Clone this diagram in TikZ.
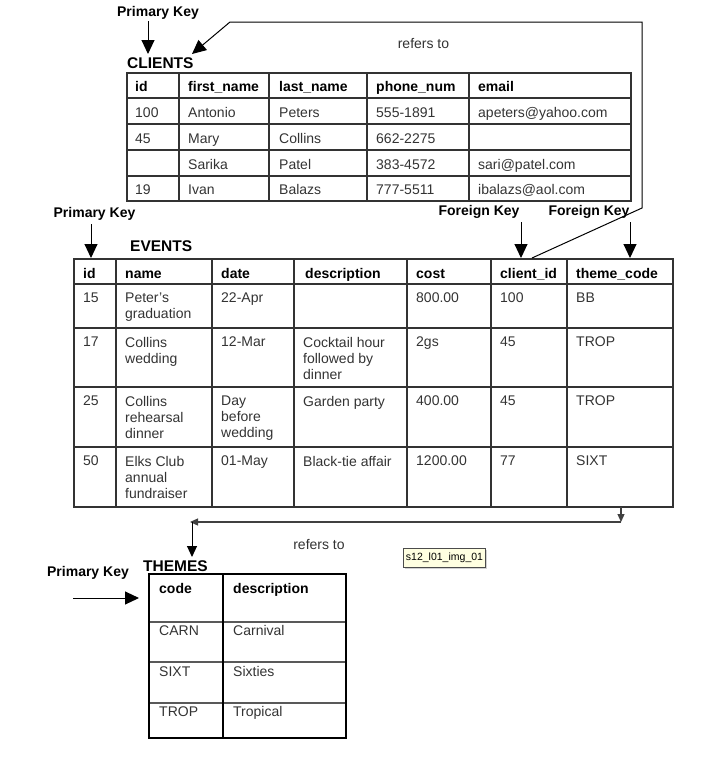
\documentclass[tikz,border=0pt]{standalone}
\usepackage{fontspec}
\setmainfont{Liberation Sans}
\usetikzlibrary{arrows.meta,shadows}
\definecolor{tipyellow}{RGB}{255,255,225}

\begin{document}
\begin{tikzpicture}[x=1pt,y=-1pt,
  keylabel/.style={font=\fontsize{14}{16}\selectfont\bfseries, inner sep=0pt},
  tabletitle/.style={font=\fontsize{15.5}{18}\selectfont\bfseries, anchor=base west, inner sep=0pt},
  headcell/.style={font=\fontsize{14}{16}\selectfont\bfseries, anchor=base west, inner sep=0pt},
  bodycell/.style={font=\fontsize{14}{16}\selectfont, text=black!80, anchor=base west, inner sep=0pt, align=left},
  topcell/.style={bodycell, anchor=north west},
  gridline/.style={draw=black!80, line width=1.4pt},
  bigarrow/.style={-{Triangle[length=14pt,width=13pt]}, line width=1pt},
  smallarrow/.style={-{Triangle[length=8pt,width=7pt]}, line width=1.2pt, draw=black!75, fill=black!75}]
\useasboundingbox (0,0) rectangle (727,763);

% CLIENTS
\node (cl-title) [tabletitle] at (127,68) {CLIENTS};
\draw[gridline] (127,73) rectangle (631,201);
\foreach \y in {98,124,150,176} \draw[gridline] (127,\y) -- (631,\y);
\foreach \x in {179,269,367,469} \draw[gridline] (\x,73) -- (\x,201);
\foreach \x/\t [count=\c] in {135/id, 188/first\_name, 279/last\_name, 376/phone\_num, 478/email}
  \node (cl-h\c) [headcell] at (\x,91) {\t};
\foreach \x/\t [count=\c] in {135/100, 188/Antonio, 279/Peters, 376/555-1891, 478/apeters@yahoo.com}
  \node (cl-a\c) [bodycell] at (\x,117) {\t};
\foreach \x/\t [count=\c] in {135/45, 188/Mary, 279/Collins, 376/662-2275}
  \node (cl-b\c) [bodycell] at (\x,143) {\t};
\foreach \x/\t [count=\c] in {188/Sarika, 279/Patel, 376/383-4572, 478/sari@patel.com}
  \node (cl-c\c) [bodycell] at (\x,169) {\t};
\foreach \x/\t [count=\c] in {135/19, 188/Ivan, 279/Balazs, 376/777-5511, 478/ibalazs@aol.com}
  \node (cl-d\c) [bodycell] at (\x,194) {\t};

% EVENTS
\node (ev-title) [tabletitle] at (130,251) {EVENTS};
\draw[gridline] (74,259) rectangle (673,507);
\foreach \y in {284,328,387,447} \draw[gridline] (74,\y) -- (673,\y);
\foreach \x in {116,212,294,407,491,567} \draw[gridline] (\x,259) -- (\x,507);
\foreach \x/\t [count=\c] in {83/id, 125/name, 221/date, 305/description, 416/cost, 500/client\_id, 576/theme\_code}
  \node (ev-h\c) [headcell] at (\x,278) {\t};
\foreach \x/\t [count=\c] in {83/15, 125/Peter's\\graduation, 221/22-Apr, 416/800.00, 500/100, 576/BB}
  \node (ev-a\c) [topcell] at (\x,293) {\t};
\foreach \x/\t [count=\c] in {83/17, 125/Collins\\wedding, 221/12-Mar, 303/Cocktail hour\\followed by\\dinner, 416/2gs, 500/45, 576/TROP}
  \node (ev-b\c) [topcell] at (\x,337) {\t};
\foreach \x/\t [count=\c] in {83/25, 125/Collins\\rehearsal\\dinner, 221/Day\\before\\wedding, 303/Garden party, 416/400.00, 500/45, 576/TROP}
  \node (ev-c\c) [topcell] at (\x,396) {\t};
\foreach \x/\t [count=\c] in {83/50, 125/Elks Club\\annual\\fundraiser, 221/01-May, 303/Black-tie affair, 416/1200.00, 500/77, 576/SIXT}
  \node (ev-d\c) [topcell] at (\x,456) {\t};

% THEMES
\node (th-title) [tabletitle] at (143,571) {THEMES};
\foreach \y in {622,662,703} \draw[draw=black!65, line width=1.6pt] (149,\y) -- (346,\y);
\draw[draw=black, line width=1.2pt] (223,574) -- (223,738);
\draw[draw=black, line width=1.4pt] (149,574) rectangle (346,738);
\node (th-h1) [headcell] at (159,593) {code};
\node (th-h2) [headcell] at (233,593) {description};
\foreach \y/\k/\t [count=\c] in {635/CARN/Carnival, 676/SIXT/Sixties, 716/TROP/Tropical} {
  \node (th-k\c) [bodycell] at (159,\y) {\k};
  \node (th-d\c) [bodycell] at (233,\y) {\t};
}

% key labels
\node (pk-cl) [keylabel] at (158,13) {Primary Key};
\node (pk-ev) [keylabel] at (94.5,214) {Primary Key};
\node (fk-cl) [keylabel] at (479,212) {Foreign Key};
\node (fk-th) [keylabel] at (589,212) {Foreign Key};
\node (pk-th) [keylabel] at (88,573) {Primary Key};
\node (ref-cl) [bodycell, anchor=center] at (423.5,44) {refers to};
\node (ref-th) [bodycell, anchor=center] at (319,544) {refers to};
\node (img-tag) [draw=black!70, fill=tipyellow, drop shadow={shadow xshift=1.5pt, shadow yshift=-1.5pt, fill=black!35},
  font=\fontsize{10.5}{12}\selectfont, inner sep=2.5pt, minimum height=19pt] at (444.5,558) {s12\_l01\_img\_01};

% connectors
\coordinate (pk-cl-a) at (148,21);   \coordinate (pk-cl-b) at (148,54);
\coordinate (pk-ev-a) at (91,224);   \coordinate (pk-ev-b) at (91,258);
\coordinate (fk-cl-a) at (521,222);  \coordinate (fk-cl-b) at (521,258);
\coordinate (fk-th-a) at (630,222);  \coordinate (fk-th-b) at (630,258);
\coordinate (pk-th-a) at (73,598);   \coordinate (pk-th-b) at (139,598);
\coordinate (cl-in) at (192,54);
\coordinate (ev-out) at (532,258);
\coordinate (ev-th-a) at (621,507);  \coordinate (ev-th-b) at (621,522);
\coordinate (th-in) at (192,557);
\draw[bigarrow] (pk-cl-a) -- (pk-cl-b);
\draw[bigarrow] (pk-ev-a) -- (pk-ev-b);
\draw[bigarrow] (fk-cl-a) -- (fk-cl-b);
\draw[bigarrow] (fk-th-a) -- (fk-th-b);
\draw[bigarrow] (pk-th-a) -- (pk-th-b);
\draw[bigarrow] (ev-out) -- (642,208) -- (642,22) -- (230,22) -- (cl-in);
\draw[smallarrow] (ev-th-a) -- (ev-th-b);
\draw[smallarrow] (ev-th-b) -- (190,522);
\draw[bigarrow, -{Triangle[length=11pt,width=10pt]}] (192,522) -- (th-in);
\end{tikzpicture}
\end{document}
